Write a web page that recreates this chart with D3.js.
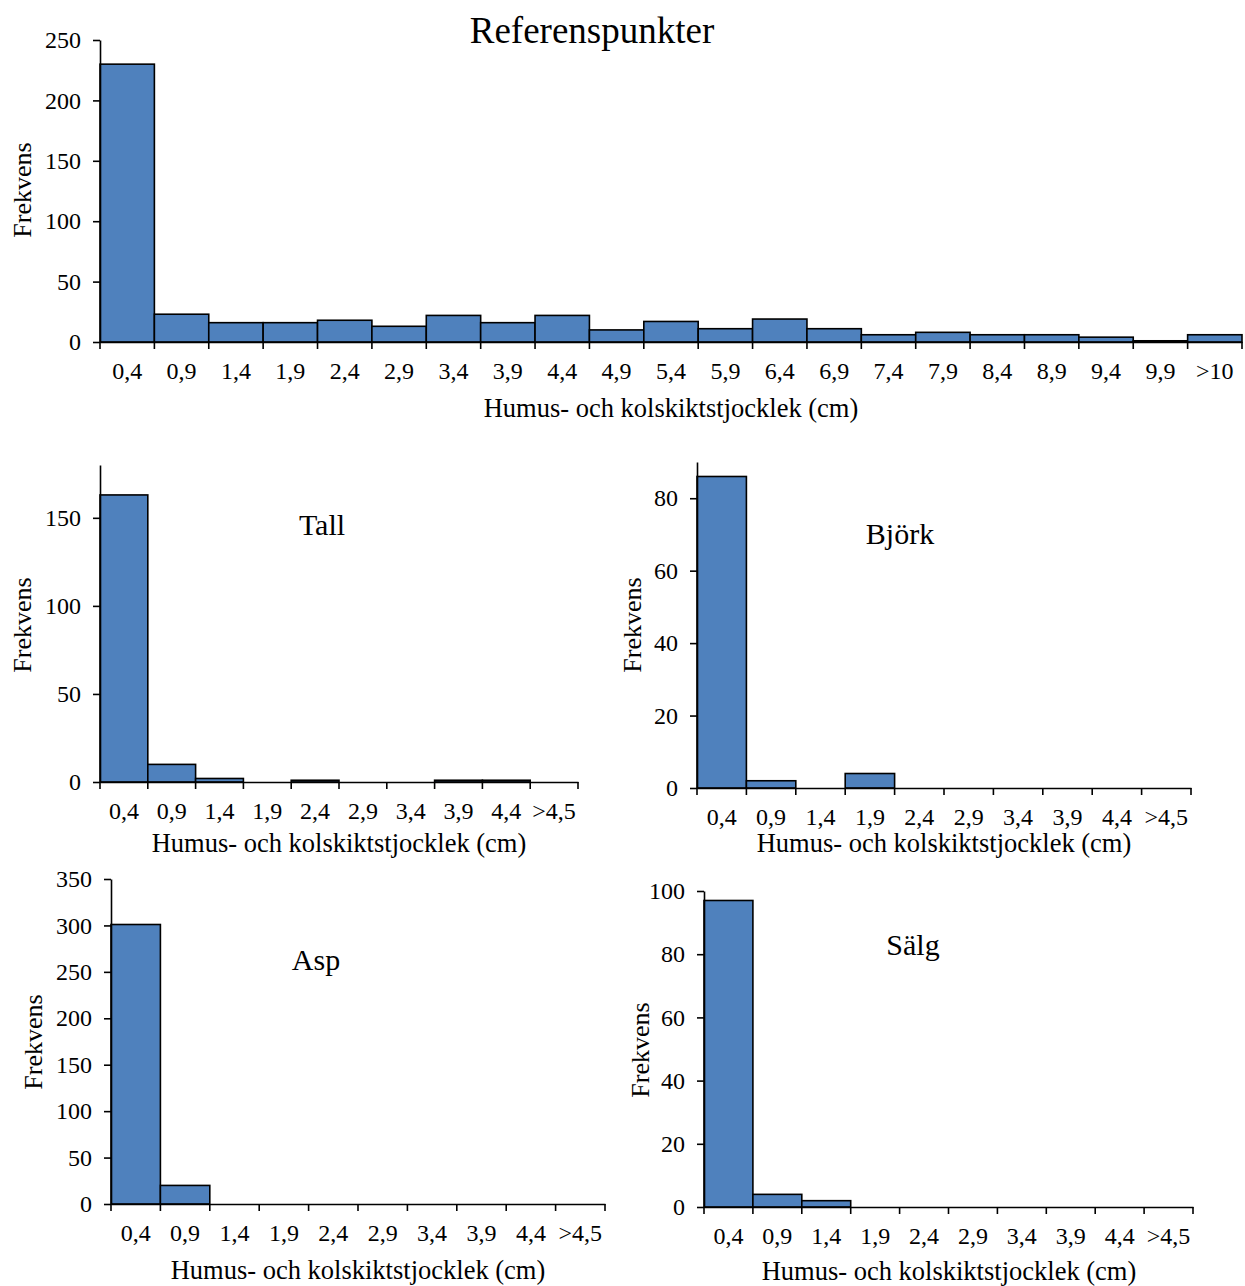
<!DOCTYPE html>
<html>
<head>
<meta charset="utf-8">
<script src="https://cdn.jsdelivr.net/npm/d3@7"></script>
<style>
  html, body { margin: 0; padding: 0; background: #fff; }
  svg { display: block; }
  svg text { font-family: "Liberation Serif", "Times New Roman", serif !important; fill: #000; }
</style>
</head>
<body>
<svg id="chart" width="1245" height="1286"></svg>
<script>
// Thickness classes (cm)
const catsAll = ["0,4","0,9","1,4","1,9","2,4","2,9","3,4","3,9","4,4","4,9","5,4",
                 "5,9","6,4","6,9","7,4","7,9","8,4","8,9","9,4","9,9",">10"];
const catsSpecies = ["0,4","0,9","1,4","1,9","2,4","2,9","3,4","3,9","4,4",">4,5"];

// Frequencies per class
const referensValues = [230,23,16,16,18,13,22,16,22,10,17,11,19,11,6,8,6,6,4,1,6];
const tallValues     = [163,10,2,0,1,0,0,1,1,0];
const bjorkValues    = [86,2,0,4,0,0,0,0,0,0];
const aspValues      = [301,20,0,0,0,0,0,0,0,0];
const salgValues     = [97,4,2,0,0,0,0,0,0,0];

// Y-axis settings per panel: [max, step]
const referensAxis = [250, 50];
const tallAxis     = [180, 50];
const bjorkAxis    = [90, 20];
const aspAxis      = [350, 50];
const salgAxis     = [100, 20];

const xTitle = "Humus- och kolskiktstjocklek (cm)";
const yTitle = "Frekvens";
const serif = "'Liberation Serif', 'Times New Roman', serif";

const svg = d3.select("#chart");

function histogram(opt) {
  const g = svg.append("g");
  const x = d3.scaleBand().domain(opt.cats).range([opt.left, opt.right]).padding(0);
  const y = d3.scaleLinear().domain([0, opt.axis[0]]).range([opt.bottom, opt.top]);
  const data = opt.cats.map((c, i) => ({ cat: c, value: opt.values[i] }));

  // bars
  g.selectAll("rect.bar")
    .data(data.filter(d => d.value > 0))
    .join("rect")
    .attr("class", "bar")
    .attr("x", d => x(d.cat))
    .attr("y", d => y(d.value))
    .attr("width", x.bandwidth())
    .attr("height", d => y(0) - y(d.value))
    .attr("fill", "#4F81BD")
    .attr("stroke", "#000")
    .attr("stroke-width", 1.6);

  // y axis
  const yTicks = d3.range(0, opt.axis[0] + 0.001, opt.axis[1]);
  const yAxis = d3.axisLeft(y).tickValues(yTicks).tickSize(7).tickSizeOuter(0).tickPadding(12)
    .tickFormat(d3.format("d"));
  const ya = g.append("g").attr("transform", `translate(${opt.left},0)`).call(yAxis)
    .attr("font-family", null).attr("font-size", null);
  ya.select(".domain").attr("stroke", "#000").attr("stroke-width", 1.6);
  ya.selectAll(".tick line").attr("stroke", "#000").attr("stroke-width", 1.6);
  ya.selectAll(".tick text").style("font-size", opt.tickSize + "px").style("font-family", serif).attr("fill", "#000");

  // x axis: category labels centred, tick marks on class boundaries
  const xAxis = d3.axisBottom(x).tickSize(0).tickSizeOuter(0).tickPadding(opt.labelPad);
  const xa = g.append("g").attr("transform", `translate(0,${opt.bottom})`).call(xAxis)
    .attr("font-family", null).attr("font-size", null);
  xa.select(".domain").attr("stroke", "#000").attr("stroke-width", 1.6);
  xa.selectAll(".tick text").style("font-size", opt.tickSize + "px").style("font-family", serif).attr("fill", "#000");

  const bounds = opt.cats.map(c => x(c)).concat([x.range()[1]]);
  g.selectAll("line.xtick")
    .data(bounds)
    .join("line")
    .attr("class", "xtick")
    .attr("x1", d => d).attr("x2", d => d)
    .attr("y1", opt.bottom).attr("y2", opt.bottom + 7)
    .attr("stroke", "#000").attr("stroke-width", 1.6);

  // titles
  g.append("text")
    .attr("x", opt.titleX).attr("y", opt.titleY)
    .attr("text-anchor", "middle").attr("dominant-baseline", "central")
    .style("font-size", opt.titleSize + "px")
    .text(opt.title);

  g.append("text")
    .attr("x", opt.xTitleX).attr("y", opt.xTitleY)
    .attr("text-anchor", "middle").attr("dominant-baseline", "central")
    .style("font-size", "26.5px")
    .text(xTitle);

  g.append("text")
    .attr("transform", `translate(${opt.yTitleX},${opt.yTitleY}) rotate(-90)`)
    .attr("text-anchor", "middle").attr("dominant-baseline", "central")
    .style("font-size", "26px")
    .text(yTitle);
}

histogram({
  cats: catsAll, values: referensValues, axis: referensAxis,
  left: 100, right: 1242, top: 40, bottom: 342,
  tickSize: 24, labelPad: 20,
  title: "Referenspunkter", titleX: 592, titleY: 30, titleSize: 37,
  xTitleX: 671, xTitleY: 408, yTitleX: 22, yTitleY: 190
});

histogram({
  cats: catsSpecies, values: tallValues, axis: tallAxis,
  left: 100, right: 578, top: 465, bottom: 782,
  tickSize: 24, labelPad: 20,
  title: "Tall", titleX: 322, titleY: 524, titleSize: 30,
  xTitleX: 339, xTitleY: 843, yTitleX: 22, yTitleY: 625
});

histogram({
  cats: catsSpecies, values: bjorkValues, axis: bjorkAxis,
  left: 697, right: 1191, top: 462, bottom: 788,
  tickSize: 24, labelPad: 20,
  title: "Björk", titleX: 900, titleY: 533, titleSize: 30,
  xTitleX: 944, xTitleY: 843, yTitleX: 632, yTitleY: 625
});

histogram({
  cats: catsSpecies, values: aspValues, axis: aspAxis,
  left: 111, right: 605, top: 879, bottom: 1204,
  tickSize: 24, labelPad: 20,
  title: "Asp", titleX: 316, titleY: 959, titleSize: 30,
  xTitleX: 358, xTitleY: 1270, yTitleX: 33, yTitleY: 1042
});

histogram({
  cats: catsSpecies, values: salgValues, axis: salgAxis,
  left: 704, right: 1193, top: 891, bottom: 1207,
  tickSize: 24, labelPad: 20,
  title: "Sälg", titleX: 913, titleY: 944, titleSize: 30,
  xTitleX: 949, xTitleY: 1271, yTitleX: 640, yTitleY: 1050
});
</script>
</body>
</html>
